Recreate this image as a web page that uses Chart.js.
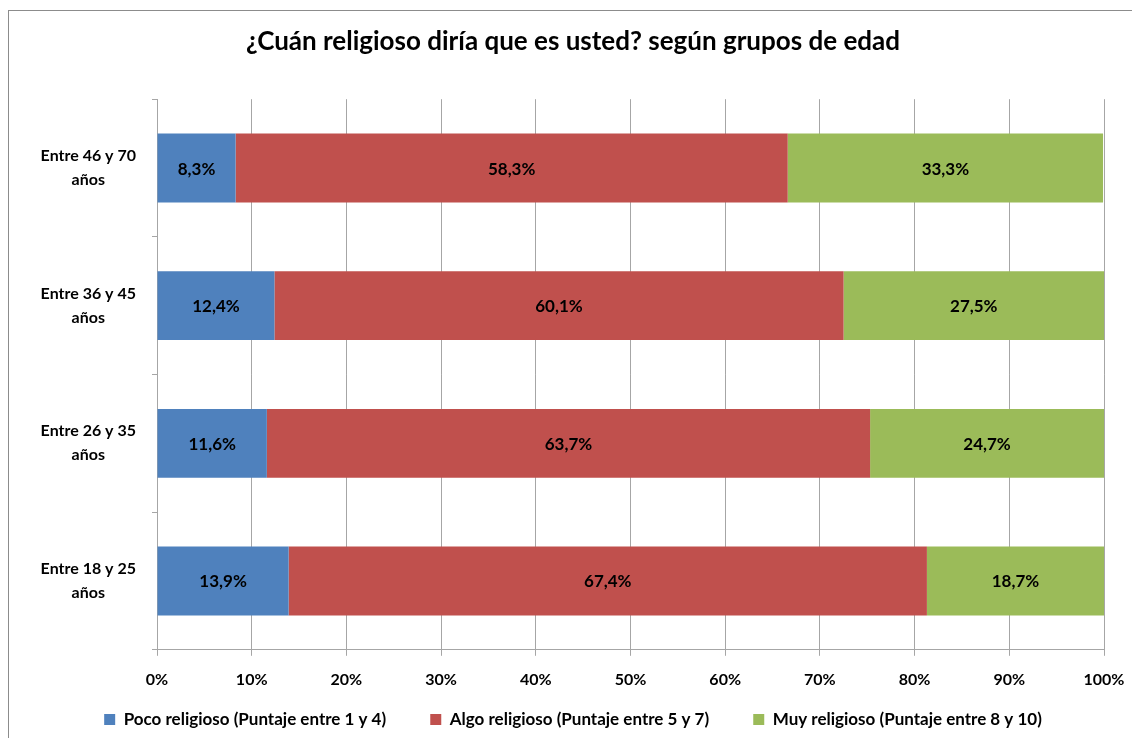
<!DOCTYPE html>
<html><head><meta charset="utf-8">
<script src="https://cdn.jsdelivr.net/npm/chart.js@4/dist/chart.umd.min.js"></script>
<style>html,body{margin:0;padding:0;background:#fff;}#wrap{width:1132px;height:738px;position:relative;}</style>
</head><body><div id="wrap"><canvas id="c" width="1132" height="738"></canvas></div>
<script>
const categories = [["Entre 46 y 70","años"],["Entre 36 y 45","años"],["Entre 26 y 35","años"],["Entre 18 y 25","años"]];
const seriesNames = ["Poco religioso (Puntaje entre 1 y 4)","Algo religioso (Puntaje entre 5 y 7)","Muy religioso (Puntaje entre 8 y 10)"];
const poco = [8.3, 12.4, 11.6, 13.9];
const algo = [58.3, 60.1, 63.7, 67.4];
const muy = [33.3, 27.5, 24.7, 18.7];
const colors = ["#4F81BD","#C0504D","#9BBB59"];
const FONT = "Lato, 'Liberation Sans', sans-serif";

const frame = {id:'frame', beforeDraw(chart){const ctx=chart.ctx;ctx.save();ctx.fillStyle='#fff';ctx.fillRect(0,0,chart.width,chart.height);ctx.strokeStyle='#8c8c8c';ctx.lineWidth=1;ctx.strokeRect(8.5,10.5,1200,800);ctx.restore();}};
const labels = {id:'labels', afterDatasetsDraw(chart){const ctx=chart.ctx;ctx.save();ctx.font="bold 17px "+FONT;ctx.fillStyle='#000';ctx.textAlign='center';ctx.textBaseline='middle';
 chart.data.datasets.forEach((ds,i)=>{chart.getDatasetMeta(i).data.forEach((el,j)=>{const x=(el.x+el.base)/2;ctx.fillText(ds.data[j].toFixed(1).replace('.',',')+'%',x,el.y+1);});});ctx.restore();}};

new Chart(document.getElementById('c'),{
 type:'bar',
 data:{labels:categories,datasets:[
  {label:seriesNames[0],data:poco,backgroundColor:colors[0]},
  {label:seriesNames[1],data:algo,backgroundColor:colors[1]},
  {label:seriesNames[2],data:muy,backgroundColor:colors[2]}]},
 options:{indexAxis:'y',responsive:false,animation:false,
  layout:{padding:{left:14,right:0,top:0,bottom:0}},
  datasets:{bar:{barPercentage:0.5,categoryPercentage:1}},
  scales:{
   x:{stacked:true,min:0,max:100,ticks:{stepSize:10,callback:v=>v+'%',color:'#000',font:{family:FONT,weight:'bold',size:16},padding:14},
      grid:{color:'#a6a6a6',tickLength:6,drawOnChartArea:true},border:{color:'#a6a6a6'},
      afterFit(s){s.paddingRight=28;}},
   y:{stacked:true,ticks:{color:'#000',font:{family:FONT,weight:'bold',size:16,lineHeight:1.5},crossAlign:'center',padding:16},
      grid:{offset:true,drawOnChartArea:false,color:'#a6a6a6',tickLength:5},border:{color:'#a6a6a6'},
      afterFit(s){s.width=143;}}
  },
  plugins:{
   title:{display:true,text:'¿Cuán religioso diría que es usted? según grupos de edad',color:'#000',font:{family:FONT,weight:'bold',size:26},padding:{top:26,bottom:42}},
   legend:{position:'bottom',labels:{color:'#000',font:{family:FONT,weight:'bold',size:17},boxWidth:11,boxHeight:11,padding:8,
     generateLabels(chart){const items=Chart.defaults.plugins.legend.labels.generateLabels(chart);items.forEach((it,i)=>{if(i<items.length-1)it.text=it.text+'\u2003\u2003\u2002\u2009';});return items;}},onClick:null},
   tooltip:{enabled:false}
  }},
 plugins:[frame,labels]
});
</script></body></html>
